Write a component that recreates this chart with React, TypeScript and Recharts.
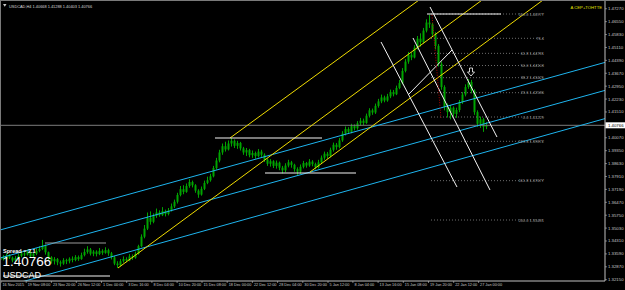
import {
  ComposedChart,
  Bar,
  XAxis,
  YAxis,
  ReferenceLine,
  ReferenceDot,
} from "recharts";

// USDCAD H4 (each candle here = 2 H4 bars)
const closes = [
  1.3342, 1.333, 1.3351, 1.3338, 1.3322, 1.3336, 1.3348,
  1.3362, 1.3355, 1.337, 1.3346, 1.336, 1.3375, 1.3386, 1.3405,
  1.3368, 1.334, 1.3318, 1.333, 1.3312, 1.3305, 1.3324, 1.3318,
  1.3332, 1.3325, 1.3341, 1.333, 1.3352, 1.337, 1.3384, 1.336,
  1.3372, 1.3358, 1.3376, 1.3365, 1.338, 1.3362,
  1.334, 1.3305, 1.3296,
  1.3318, 1.333, 1.3322, 1.3345, 1.3338, 1.336,
  1.3402, 1.3455, 1.35,
  1.356, 1.3538, 1.3572,
  1.359, 1.3575, 1.3598, 1.3582, 1.3601, 1.3624,
  1.365, 1.3688, 1.372, 1.3705, 1.3738,
  1.376, 1.3742, 1.3712, 1.369, 1.3722, 1.3755, 1.377, 1.3792,
  1.3838, 1.388, 1.3925, 1.396,
  1.3942, 1.3975, 1.399, 1.3962, 1.3978, 1.3948,
  1.3925, 1.3938, 1.391, 1.3922, 1.3905, 1.393, 1.3912, 1.3885,
  1.3862, 1.3876, 1.385, 1.3868, 1.384, 1.3825, 1.3852, 1.387, 1.3856, 1.3832, 1.3818, 1.3845,
  1.3866, 1.3852, 1.3874, 1.386, 1.3842, 1.387,
  1.3896, 1.3918, 1.3905, 1.394, 1.3968, 1.3955, 1.3992, 1.403,
  1.4056, 1.404, 1.4072, 1.406, 1.4088, 1.4102, 1.409,
  1.413, 1.416, 1.4148, 1.4185, 1.421, 1.4232, 1.4215,
  1.4238, 1.4262, 1.425, 1.4285, 1.4312, 1.438,
  1.4432, 1.447, 1.4455, 1.451, 1.456,
  1.454, 1.4605, 1.465, 1.464,
  1.4585, 1.452, 1.442, 1.429, 1.418,
  1.415, 1.4175, 1.414, 1.4162,
  1.4205, 1.4248, 1.429, 1.4318,
  1.427, 1.415, 1.4085, 1.411, 1.4068, 1.40766,
];

const highs = [
  1.3356, 1.3352, 1.3362, 1.3358, 1.3344, 1.3347, 1.336,
  1.3375, 1.3371, 1.3384, 1.3374, 1.3368, 1.339, 1.3402, 1.3437,
  1.3412, 1.3372, 1.3346, 1.3341, 1.3336, 1.3322, 1.3335, 1.3332,
  1.334, 1.3345, 1.3352, 1.335, 1.3366, 1.3388, 1.3402, 1.3392,
  1.338, 1.3379, 1.3392, 1.3385, 1.3396, 1.3388,
  1.337, 1.3348, 1.3318,
  1.333, 1.3345, 1.334, 1.3358, 1.3356, 1.3372,
  1.341, 1.3468, 1.352,
  1.359, 1.3596, 1.3585,
  1.3612, 1.3602, 1.362, 1.3606, 1.3615, 1.364,
  1.3662, 1.37, 1.3738, 1.3742, 1.3752,
  1.3776, 1.3768, 1.3748, 1.372, 1.3735, 1.3768, 1.379, 1.3806,
  1.385, 1.3895, 1.394, 1.3975,
  1.3985, 1.3992, 1.4006, 1.3998, 1.399, 1.3984,
  1.3956, 1.395, 1.3945, 1.3936, 1.393, 1.3944, 1.394, 1.392,
  1.3892, 1.3888, 1.3882, 1.388, 1.3874, 1.385, 1.3865, 1.3884, 1.3878, 1.3862, 1.3842, 1.3858,
  1.3878, 1.3872, 1.3888, 1.3882, 1.3868, 1.3884,
  1.3908, 1.393, 1.3928, 1.3952, 1.398, 1.3978, 1.4006, 1.4044,
  1.407, 1.4066, 1.4085, 1.4082, 1.41, 1.4118, 1.4114,
  1.4142, 1.4172, 1.417, 1.4198, 1.4224, 1.4248, 1.4242,
  1.4252, 1.4276, 1.4274, 1.4298, 1.433, 1.4396,
  1.4446, 1.4486, 1.4484, 1.4524, 1.4575,
  1.459, 1.462, 1.4668, 1.4693,
  1.4648, 1.4596, 1.453, 1.4432, 1.43,
  1.4198, 1.419, 1.4182, 1.4175,
  1.4218, 1.4262, 1.4305, 1.4335,
  1.433, 1.4278, 1.416, 1.4125, 1.4118, 1.4095,
];

const lows = [
  1.3318, 1.3322, 1.3326, 1.333, 1.3312, 1.3315, 1.3331,
  1.334, 1.3344, 1.335, 1.3338, 1.3335, 1.3352, 1.3368, 1.338,
  1.3355, 1.3325, 1.3305, 1.33, 1.3296, 1.3288, 1.3298, 1.3302,
  1.3306, 1.3312, 1.3318, 1.332, 1.3326, 1.3345, 1.336, 1.335,
  1.3346, 1.3345, 1.3352, 1.3354, 1.336, 1.3348,
  1.3328, 1.3296, 1.328,
  1.3288, 1.331, 1.3312, 1.3318, 1.3326, 1.3332,
  1.3355, 1.3396, 1.3446,
  1.3492, 1.3522, 1.353,
  1.356, 1.3566, 1.357, 1.3568, 1.3574, 1.3595,
  1.3615, 1.364, 1.368, 1.3692, 1.37,
  1.3728, 1.373, 1.37, 1.3672, 1.3684, 1.3715, 1.3748, 1.3762,
  1.3786, 1.383, 1.387, 1.3912,
  1.393, 1.3936, 1.3958, 1.395, 1.3945, 1.3936,
  1.3912, 1.3905, 1.3898, 1.3895, 1.389, 1.3898, 1.39, 1.3872,
  1.385, 1.3846, 1.3838, 1.3835, 1.3826, 1.3808, 1.3815, 1.3842, 1.384, 1.3818, 1.38, 1.3806,
  1.3836, 1.384, 1.3845, 1.3848, 1.383, 1.3836,
  1.386, 1.3884, 1.389, 1.3898, 1.393, 1.394, 1.3948, 1.3984,
  1.402, 1.4028, 1.4032, 1.4048, 1.4052, 1.4075, 1.4078,
  1.4085, 1.412, 1.4135, 1.414, 1.4175, 1.42, 1.4205,
  1.4208, 1.4228, 1.4238, 1.4245, 1.4278, 1.4305,
  1.4372, 1.442, 1.444, 1.445, 1.45,
  1.4515, 1.4532, 1.4595, 1.462,
  1.457, 1.45, 1.4405, 1.4275, 1.416,
  1.412, 1.411, 1.4124, 1.4118,
  1.415, 1.4196, 1.4238, 1.428,
  1.4255, 1.4135, 1.4068, 1.4062, 1.404, 1.4055,
];

const firstOpen = 1.3325;
const lastPrice = 1.40766;

// price axis
const priceTicks = [
  1.3215, 1.3287, 1.3359, 1.3431, 1.3503, 1.3575, 1.3647, 1.3719, 1.3791,
  1.3863, 1.3935, 1.4007, 1.4151, 1.4223, 1.4295, 1.4367, 1.4439, 1.4511,
  1.4583, 1.4655, 1.4727,
];

// time axis (positions in candle units)
const timeTicks = [
  0, 8.4, 16.8, 25.1, 33.5, 41.9, 50.3, 58.7, 67, 75.4, 83.8, 92.2, 100.6,
  109, 117.3, 125.7, 134.1, 142.5, 150.9, 159.2,
];
const timeLabels = [
  "16 Nov 2015", "19 Nov 08:00", "23 Nov 20:00", "26 Nov 12:00", "1 Dec 00:00",
  "3 Dec 16:00", "8 Dec 04:00", "10 Dec 20:00", "15 Dec 08:00", "18 Dec 00:00",
  "22 Dec 12:00", "28 Dec 04:00", "30 Dec 20:00", "5 Jan 12:00", "8 Jan 04:00",
  "13 Jan 16:00", "15 Jan 08:00", "19 Jan 20:00", "22 Jan 12:00", "27 Jan 00:00",
];

// drawn objects: [x1, price1, x2, price2]
const yellowLines = [
  [76.33, 1.40057, 143, 1.48205],
  [39, 1.32803, 164, 1.48205],
  [103, 1.3816, 184.3, 1.48205],
];
const cyanLines = [
  [-0.33, 1.34923, 201.33, 1.44276],
  [-0.33, 1.33361, 201.33, 1.42714],
  [-0.33, 1.31687, 201.33, 1.4114],
];
const whiteLines = [
  [71.33, 1.40057, 107, 1.40057],
  [88, 1.38104, 118.33, 1.38104],
  [0.67, 1.32356, 36.33, 1.32356],
  [142, 1.46977, 166.67, 1.46977],
  [143, 1.47368, 165.33, 1.40113],
  [135.67, 1.42457, 150.33, 1.44968],
  [126.67, 1.45415, 152, 1.37323],
  [137.33, 1.45638, 163, 1.37156],
];
const grayLines = [[14.67, 1.34198, 35, 1.34198]];
const redDotted = [[143.67, 1.46921, 146.67, 1.41173]];

const fibHigh = 1.46977;
const fibLow = 1.41229;
const fibFrom = 143.33;
const fibTo = 181.33;
const fibLevels = [100, 76.4, 61.8, 50, 38.2, 23.6, 0, -23.6, -61.8, -100];
const fibNames = ["100.0", "76.4", "61.8", "50.0", "38.2", "23.6", "0.0", "123.6", "161.8", "200.0"];

const arrowAt = [156.67, 1.4374];

const X_DOMAIN = [-1 / 3, 604 / 3];
const Y_DOMAIN = [1.320775, 1.477583];

const candles = closes.map((c, i) => {
  const open = i === 0 ? firstOpen : closes[i - 1];
  const high = Math.max(highs[i], open, c);
  const low = Math.min(lows[i], open, c);
  return { idx: i, open, close: c, high, low, range: [low, high] };
});

const GREEN = "#00a400";
const AXIS = "#c0c0c0";
const FONT = '"Liberation Sans", Arial, sans-serif';

const Candle = (props: any) => {
  const { x, y, width, height } = props;
  const d = props.payload ?? props;
  const span = d.high - d.low || 1e-9;
  const yo = y + ((d.high - d.open) / span) * height;
  const yc = y + ((d.high - d.close) / span) * height;
  const top = Math.min(yo, yc);
  const bh = Math.max(Math.abs(yc - yo), 0.8);
  const cx = Math.floor(x + width / 2) + 0.5;
  return (
    <g>
      <line x1={cx} x2={cx} y1={y} y2={y + height} stroke={GREEN} strokeWidth={1} />
      <rect x={cx - 1} y={top} width={2} height={bh} fill={GREEN} />
    </g>
  );
};

const TimeTick = (props: any) => {
  const { x, y, index } = props;
  return (
    <g>
      <line x1={x} x2={x} y1={y} y2={y + 2} stroke={AXIS} strokeWidth={0.6} />
      <text x={x + 1.5} y={y + 5} fontSize={3.8} fill="#c8c8c8" fontFamily={FONT}>
        {timeLabels[index]}
      </text>
    </g>
  );
};

const PriceTick = (props: any) => {
  const { x, y, payload } = props;
  return (
    <g>
      <line x1={x} x2={x + 2} y1={y} y2={y} stroke={AXIS} strokeWidth={0.6} />
      <text x={x + 3} y={y + 1.5} fontSize={4.3} fill="#c8c8c8" fontFamily={FONT}>
        {Number(payload.value).toFixed(5)}
      </text>
    </g>
  );
};

const seg = (l: number[], key: string, stroke: string, dash?: string) => (
  <ReferenceLine
    key={key}
    segment={[
      { x: l[0], y: l[1] },
      { x: l[2], y: l[3] },
    ]}
    stroke={stroke}
    strokeWidth={1}
    strokeDasharray={dash}
    ifOverflow="hidden"
  />
);

export default function App() {
  const fibRange = fibHigh - fibLow;
  return (
    <div
      style={{
        position: "absolute",
        left: 0,
        top: 0,
        width: 625,
        height: 290,
        background: "#000",
        overflow: "hidden",
        fontFamily: FONT,
      }}
    >
      <ComposedChart
        width={625}
        height={290}
        data={candles}
        margin={{ top: 0, right: 0, bottom: 0, left: 0 }}
      >
        <XAxis
          dataKey="idx"
          type="number"
          domain={X_DOMAIN}
          allowDataOverflow
          ticks={timeTicks}
          interval={0}
          height={9}
          stroke={AXIS}
          tickLine={false}
          tickSize={0}
          tickMargin={0}
          tick={(p: any) => <TimeTick {...p} />}
        />
        <YAxis
          orientation="right"
          type="number"
          domain={Y_DOMAIN}
          allowDataOverflow
          ticks={priceTicks}
          interval={0}
          width={20}
          stroke={AXIS}
          tickLine={false}
          tickSize={0}
          tickMargin={0}
          tick={(p: any) => <PriceTick {...p} />}
        />
        <Bar
          dataKey="range"
          barSize={2}
          shape={(p: any) => <Candle {...p} />}
          isAnimationActive={false}
        />
        <ReferenceLine y={lastPrice} stroke="#7c7c7c" strokeWidth={1} ifOverflow="hidden" />
        {fibLevels.map((lv, k) =>
          seg(
            [fibFrom, fibLow + (lv / 100) * fibRange, fibTo, fibLow + (lv / 100) * fibRange],
            "fib" + k,
            "#6e6e6e",
            "1 2"
          )
        )}
        {fibLevels.map((lv, k) => (
          <ReferenceDot
            key={"fibt" + k}
            x={fibTo}
            y={fibLow + (lv / 100) * fibRange}
            r={0}
            ifOverflow="visible"
            shape={(p: any) => (
              <text
                x={p.cx - 1}
                y={p.cy + 1.5}
                textAnchor="end"
                fontSize={4}
                fill="#9a9a9a"
                fontFamily={FONT}
              >
                {lv === 76.4
                  ? fibNames[k]
                  : `${fibNames[k]}  ${(fibLow + (lv / 100) * fibRange).toFixed(5)}`}
              </text>
            )}
          />
        ))}
        {cyanLines.map((l, k) => seg(l, "c" + k, "#1eb4ee"))}
        {yellowLines.map((l, k) => seg(l, "y" + k, "#f0dc00"))}
        {grayLines.map((l, k) => seg(l, "g" + k, "#9a9a9a"))}
        {whiteLines.map((l, k) => seg(l, "w" + k, "#f4f4f4"))}
        {redDotted.map((l, k) => seg(l, "r" + k, "#b00000", "1 1.5"))}
        <ReferenceDot
          x={arrowAt[0]}
          y={arrowAt[1]}
          r={0}
          ifOverflow="visible"
          shape={(p: any) => {
            const { cx, cy } = p;
            const d = `M${cx - 1.5},${cy - 4} L${cx + 1.5},${cy - 4} L${cx + 1.5},${cy} L${cx + 3.5},${cy} L${cx},${cy + 4} L${cx - 3.5},${cy} L${cx - 1.5},${cy} Z`;
            return <path d={d} fill="none" stroke="#ffffff" strokeWidth={0.8} />;
          }}
        />
        <ReferenceDot
          x={X_DOMAIN[1]}
          y={lastPrice}
          r={0}
          ifOverflow="visible"
          shape={(p: any) => (
            <g>
              <rect x={p.cx + 0.5} y={p.cy - 3} width={20} height={6} fill="#ffffff" />
              <text x={p.cx + 3} y={p.cy + 1.6} fontSize={4.3} fill="#000" fontFamily={FONT}>
                {lastPrice.toFixed(5)}
              </text>
            </g>
          )}
        />
      </ComposedChart>
      <svg
        width={625}
        height={290}
        style={{ position: "absolute", left: 0, top: 0, pointerEvents: "none" }}
      >
        <line x1={0} x2={625} y1={0.5} y2={0.5} stroke="#7a7a7a" />
        <line x1={0.5} x2={0.5} y1={0} y2={290} stroke="#7a7a7a" />
        <polygon points="3,4 6.5,4 4.75,6.8" fill="#c8c8c8" />
        <text x={9} y={7.6} fontSize={3.9} fill="#d8d8d8" fontFamily={FONT}>
          USDCAD,H4  1.40668 1.41288 1.40403 1.40766
        </text>
        <text x={602} y={9} textAnchor="end" fontSize={4.2} fill="#e6e600" fontFamily={FONT}>
          A CEP+TOHTTE
        </text>
        <text x={3} y={252.5} fontSize={5.5} fontWeight="bold" fill="#ffffff" fontFamily={FONT}>
          Spread = 2.1
        </text>
        <text x={2.5} y={266} fontSize={13.5} fill="#ffffff" fontFamily={FONT}>
          1.40766
        </text>
        <text x={3} y={278} fontSize={9} fill="#ffffff" fontFamily={FONT}>
          USDCAD
        </text>
      </svg>
    </div>
  );
}
